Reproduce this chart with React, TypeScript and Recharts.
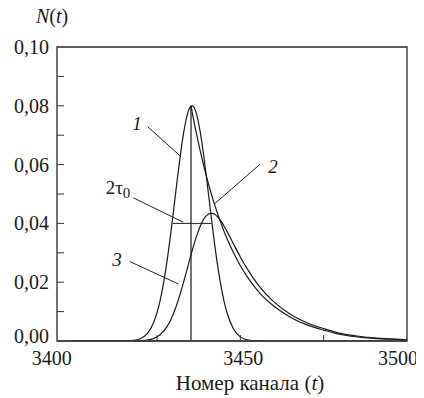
import React from 'react';
import { LineChart, Line, XAxis, YAxis, ReferenceLine, ReferenceArea, ReferenceDot } from 'recharts';

// Channels shared by curve 1 (Gaussian) and curve 3 (convolution)
const channels = [3400, 3405, 3410, 3415, 3418, 3420, 3422, 3424, 3426, 3428, 3429, 3430, 3431, 3432, 3433, 3434, 3435, 3435.5, 3436, 3437, 3438, 3439, 3440, 3441, 3442, 3443, 3444, 3445, 3446, 3448, 3450, 3452, 3455, 3458, 3460, 3465, 3470, 3475, 3480, 3485, 3490, 3495, 3500];
const curve1Values = [0, 0, 0, 0.00003, 0.00022, 0.00079, 0.00241, 0.0063, 0.0141, 0.0271, 0.0355, 0.0447, 0.0542, 0.0632, 0.0709, 0.0766, 0.0796, 0.08, 0.0796, 0.0766, 0.0709, 0.0632, 0.0542, 0.0447, 0.0355, 0.0271, 0.02, 0.0141, 0.0096, 0.004, 0.0014, 0.0004, 0.00005, 0, 0, 0, 0, 0, 0, 0, 0, 0, 0];
const curve3Values = [0, 0, 0, 0, 0.00002, 0.00009, 0.00029, 0.00086, 0.0022, 0.0049, 0.0069, 0.0095, 0.0126, 0.0162, 0.0201, 0.0243, 0.0285, 0.0305, 0.0325, 0.0361, 0.0391, 0.0414, 0.0428, 0.0434, 0.0433, 0.0424, 0.0411, 0.0393, 0.0373, 0.0329, 0.0286, 0.0247, 0.0196, 0.0156, 0.0134, 0.0091, 0.0062, 0.0042, 0.0026, 0.0017, 0.0011, 0.0007, 0.0004];

// Curve 2 (exponential): rising edge and decaying tail
const curve2RiseChannels = [3400, 3435.2, 3435.2];
const curve2RiseValues = [0, 0, 0.08];
const curve2TailChannels = [3435.2, 3436, 3437, 3438, 3439, 3440, 3441, 3442, 3443, 3444, 3445, 3446, 3448, 3450, 3452, 3455, 3458, 3460, 3465, 3470, 3475, 3480, 3485, 3490, 3495, 3500];
const curve2TailValues = [0.08, 0.0752, 0.0697, 0.0645, 0.0597, 0.0553, 0.0512, 0.0474, 0.0439, 0.0407, 0.0376, 0.0349, 0.0299, 0.0256, 0.022, 0.0174, 0.0138, 0.0119, 0.0081, 0.0055, 0.0037, 0.0022, 0.0014, 0.0009, 0.0006, 0.0004];

// Axis ticks
const xTicks = [3400, 3425, 3450, 3475, 3500];
const xLabelTicks = [3400, 3450, 3500];
const xMinorTicks = [3425, 3450, 3475];
const yTicks = [0, 0.01, 0.02, 0.03, 0.04, 0.05, 0.06, 0.07, 0.08, 0.09, 0.1];

// Annotation anchors (data coordinates)
const fwhmStart = 3429.7;
const fwhmEnd = 3441.4;
const fwhmLevel = 0.04;

const curve1Data = channels.map((t, i) => ({ t, n: curve1Values[i] }));
const curve3Data = channels.map((t, i) => ({ t, n: curve3Values[i] }));
const curve2RiseData = curve2RiseChannels.map((t, i) => ({ t, n: curve2RiseValues[i] }));
const curve2TailData = curve2TailChannels.map((t, i) => ({ t, n: curve2TailValues[i] }));

const FONT = '"Liberation Serif", "Times New Roman", serif';
const INK = '#1a1a1a';

function XTick(props: any) {
  const { x, y, payload } = props;
  const v = payload.value;
  const dxMap: Record<number, number> = { 3400: -22, 3450: 3, 3500: -9 };
  return (
    <g>
      {xMinorTicks.includes(v) && <line x1={x} x2={x} y1={y} y2={y - 6} stroke="#333" strokeWidth={1} />}
      {xLabelTicks.includes(v) && (
        <text x={x + (dxMap[v] || 0)} y={y + 24} textAnchor="middle" fontSize={20} fontFamily={FONT} fill={INK}>
          {String(v)}
        </text>
      )}
    </g>
  );
}

function YTick(props: any) {
  const { x, y, payload } = props;
  const v = payload.value;
  const idx = Math.round(v * 100);
  const major = idx % 2 === 0;
  return (
    <g>
      {idx > 0 && idx < 10 && <line x1={x} x2={x + 7} y1={y} y2={y} stroke="#333" strokeWidth={1} />}
      {major && (
        <text x={x - 8} y={y + (idx === 0 ? 2 : 7)} textAnchor="end" fontSize={20} fontFamily={FONT} fill={INK}>
          {v.toFixed(2).replace('.', ',')}
        </text>
      )}
    </g>
  );
}

function AnnoText(props: any) {
  const { viewBox, text, sub } = props;
  const cx = viewBox ? viewBox.x + (viewBox.width || 0) / 2 : 0;
  const cy = viewBox ? viewBox.y + (viewBox.height || 0) / 2 : 0;
  if (sub) {
    return (
      <text x={cx} y={cy + 7} textAnchor="middle" fontSize={19} fontFamily={FONT} fill={INK}>
        {text}
        <tspan fontSize={15} dy={4}>{sub}</tspan>
      </text>
    );
  }
  return (
    <text x={cx} y={cy + 7} textAnchor="middle" fontSize={19} fontStyle="italic" fontFamily={FONT} fill={INK}>
      {text}
    </text>
  );
}

const pointerStyle = { stroke: '#222', strokeWidth: 1 };

export default function App() {
  return (
    <div style={{ position: 'relative', width: 424, height: 398, margin: '-8px 0 0 -8px', background: '#fff' }}>
      <LineChart
        width={424}
        height={398}
        margin={{ top: 47, right: 17, left: 0, bottom: 0 }}
        style={{ fontFamily: FONT }}
      >
        <XAxis
          dataKey="t"
          type="number"
          domain={[3395, 3500]}
          ticks={xTicks}
          allowDataOverflow
          height={57}
          tickSize={0}
          tickMargin={0}
          tickLine={false}
          axisLine={{ stroke: '#444', strokeWidth: 1.6 }}
          tick={<XTick />}
          interval={0}
        />
        <YAxis
          type="number"
          domain={[0, 0.1]}
          ticks={yTicks}
          allowDataOverflow
          width={57}
          tickSize={0}
          tickMargin={0}
          tickLine={false}
          axisLine={false}
          tick={<YTick />}
          interval={0}
        />
        <ReferenceArea x1={3395} x2={3500} y1={0} y2={0.1} fill="none" stroke="#2a2a2a" strokeWidth={1.3} />

        <Line data={curve1Data} dataKey="n" type="monotone" stroke={INK} strokeWidth={1.2} dot={false} activeDot={false} isAnimationActive={false} />
        <Line data={curve3Data} dataKey="n" type="monotone" stroke={INK} strokeWidth={1.2} dot={false} activeDot={false} isAnimationActive={false} />
        <Line data={curve2RiseData} dataKey="n" type="linear" stroke={INK} strokeWidth={1.2} dot={false} activeDot={false} isAnimationActive={false} />
        <Line data={curve2TailData} dataKey="n" type="monotone" stroke={INK} strokeWidth={1.2} dot={false} activeDot={false} isAnimationActive={false} />

        <ReferenceLine segment={[{ x: fwhmStart, y: fwhmLevel }, { x: fwhmEnd, y: fwhmLevel }]} {...pointerStyle} />
        <ReferenceLine segment={[{ x: 3422.2, y: 0.0729 }, { x: 3432.2, y: 0.0627 }]} {...pointerStyle} />
        <ReferenceLine segment={[{ x: 3455.9, y: 0.0601 }, { x: 3442.4, y: 0.0468 }]} {...pointerStyle} />
        <ReferenceLine segment={[{ x: 3417.9, y: 0.0487 }, { x: 3432.9, y: 0.0404 }]} {...pointerStyle} />
        <ReferenceLine segment={[{ x: 3416.9, y: 0.027 }, { x: 3431.4, y: 0.0194 }]} {...pointerStyle} />

        <ReferenceDot x={3419.0} y={0.0741} r={0} fill="none" stroke="none" label={<AnnoText text="1" />} />
        <ReferenceDot x={3459.8} y={0.0595} r={0} fill="none" stroke="none" label={<AnnoText text="2" />} />
        <ReferenceDot x={3413.0} y={0.0279} r={0} fill="none" stroke="none" label={<AnnoText text="3" />} />
        <ReferenceDot x={3413.3} y={0.0524} r={0} fill="none" stroke="none" label={<AnnoText text="2τ" sub="0" />} />
      </LineChart>
      <svg width={424} height={398} style={{ position: 'absolute', left: 0, top: 0, pointerEvents: 'none', overflow: 'visible' }}>
        <text x={36} y={23} fontSize={20} fontFamily={FONT} fill={INK}>
          <tspan fontStyle="italic">N</tspan>(<tspan fontStyle="italic">t</tspan>)
        </text>
        <text x={250} y={390} textAnchor="middle" fontSize={21} fontFamily={FONT} fill={INK}>
          Номер канала (<tspan fontStyle="italic">t</tspan>)
        </text>
      </svg>
    </div>
  );
}
